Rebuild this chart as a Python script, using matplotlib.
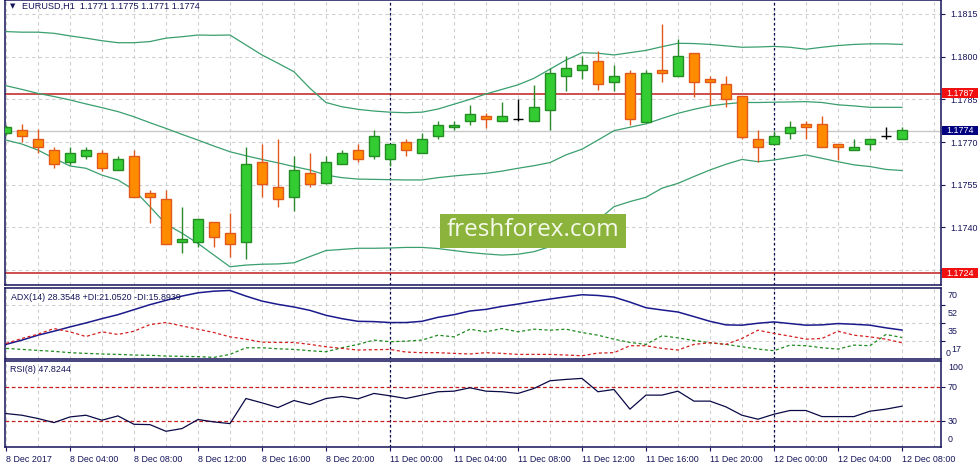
import matplotlib
matplotlib.use("Agg")
import matplotlib.pyplot as plt
from matplotlib.patches import Rectangle
import numpy as np

# ---------------- data ----------------
opens = [1.17731, 1.17743, 1.17710, 1.17671, 1.17629, 1.17650, 1.17661, 1.17601, 1.17650, 1.17520,
         1.17499, 1.17348, 1.17348, 1.17418, 1.17380, 1.17348, 1.17630, 1.17541, 1.17508, 1.17590,
         1.17557, 1.17622, 1.17671, 1.17650, 1.17639, 1.17702, 1.17661, 1.17720, 1.17752, 1.17773,
         1.17791, 1.17773, 1.17780, 1.17773, 1.17812, 1.17931, 1.17952, 1.17984, 1.17912, 1.17942,
         1.17772, 1.17952, 1.17931, 1.18012, 1.17922, 1.17903, 1.17861, 1.17710, 1.17692, 1.17731,
         1.17762, 1.17762, 1.17692, 1.17671, 1.17692, 1.17721, 1.17710]
highs = [1.17760, 1.17764, 1.17745, 1.17684, 1.17683, 1.17683, 1.17672, 1.17651, 1.17672, 1.17532,
         1.17532, 1.17471, 1.17429, 1.17418, 1.17450, 1.17683, 1.17693, 1.17710, 1.17651, 1.17661,
         1.17651, 1.17672, 1.17693, 1.17743, 1.17692, 1.17710, 1.17731, 1.17773, 1.17773, 1.17831,
         1.17801, 1.17842, 1.17851, 1.17902, 1.17961, 1.18001, 1.18001, 1.18021, 1.17972, 1.17952,
         1.17953, 1.18115, 1.18061, 1.18012, 1.17931, 1.17931, 1.17861, 1.17743, 1.17740, 1.17773,
         1.17773, 1.17792, 1.17692, 1.17710, 1.17710, 1.17752, 1.17752]
lows = [1.17725, 1.17702, 1.17661, 1.17610, 1.17621, 1.17639, 1.17600, 1.17601, 1.17508, 1.17417,
        1.17341, 1.17309, 1.17330, 1.17330, 1.17298, 1.17288, 1.17508, 1.17471, 1.17459, 1.17541,
        1.17552, 1.17622, 1.17629, 1.17639, 1.17616, 1.17650, 1.17661, 1.17710, 1.17743, 1.17761,
        1.17751, 1.17773, 1.17773, 1.17773, 1.17743, 1.17881, 1.17922, 1.17883, 1.17881, 1.17761,
        1.17772, 1.17912, 1.17931, 1.17860, 1.17831, 1.17822, 1.17710, 1.17629, 1.17692, 1.17710,
        1.17710, 1.17682, 1.17637, 1.17671, 1.17671, 1.17710, 1.17710]
closes = [1.17752, 1.17721, 1.17682, 1.17622, 1.17661, 1.17671, 1.17610, 1.17639, 1.17508, 1.17508,
          1.17341, 1.17358, 1.17429, 1.17368, 1.17341, 1.17622, 1.17552, 1.17499, 1.17601, 1.17552,
          1.17629, 1.17661, 1.17639, 1.17720, 1.17692, 1.17671, 1.17710, 1.17761, 1.17761, 1.17800,
          1.17780, 1.17791, 1.17780, 1.17822, 1.17942, 1.17961, 1.17972, 1.17903, 1.17931, 1.17781,
          1.17942, 1.17942, 1.18001, 1.17912, 1.17912, 1.17851, 1.17719, 1.17682, 1.17721, 1.17752,
          1.17752, 1.17682, 1.17682, 1.17682, 1.17710, 1.17721, 1.17743]

bb_upper = [1.18088, 1.18086, 1.18086, 1.18082, 1.18073, 1.18065, 1.18056, 1.18049, 1.18049, 1.18053,
            1.18065, 1.18070, 1.18076, 1.18075, 1.18076, 1.18041, 1.18006, 1.17977, 1.17947, 1.17889,
            1.17839, 1.17824, 1.17815, 1.17809, 1.17805, 1.17803, 1.17805, 1.17816, 1.17833, 1.17850,
            1.17869, 1.17885, 1.17901, 1.17924, 1.17956, 1.17988, 1.18014, 1.18012, 1.18006, 1.18014,
            1.18022, 1.18035, 1.18047, 1.18046, 1.18043, 1.18038, 1.18033, 1.18034, 1.18036, 1.18033,
            1.18026, 1.18033, 1.18039, 1.18043, 1.18045, 1.18045, 1.18043]
bb_middle = [1.17898, 1.17885, 1.17871, 1.17860, 1.17848, 1.17834, 1.17821, 1.17807, 1.17789, 1.17768,
             1.17748, 1.17727, 1.17707, 1.17686, 1.17666, 1.17652, 1.17639, 1.17627, 1.17614, 1.17602,
             1.17584, 1.17575, 1.17570, 1.17569, 1.17568, 1.17567, 1.17567, 1.17575, 1.17581, 1.17586,
             1.17590, 1.17598, 1.17608, 1.17617, 1.17628, 1.17655, 1.17675, 1.17707, 1.17740, 1.17752,
             1.17764, 1.17783, 1.17801, 1.17815, 1.17827, 1.17834, 1.17839, 1.17839, 1.17840, 1.17841,
             1.17842, 1.17839, 1.17831, 1.17827, 1.17822, 1.17822, 1.17822]
bb_lower = [1.17707, 1.17693, 1.17672, 1.17643, 1.17616, 1.17608, 1.17584, 1.17567, 1.17532, 1.17473,
            1.17412, 1.17380, 1.17344, 1.17303, 1.17262, 1.17268, 1.17271, 1.17272, 1.17276, 1.17298,
            1.17319, 1.17323, 1.17327, 1.17327, 1.17328, 1.17330, 1.17330, 1.17326, 1.17319, 1.17312,
            1.17307, 1.17303, 1.17306, 1.17315, 1.17333, 1.17356, 1.17380, 1.17426, 1.17473, 1.17491,
            1.17506, 1.17538, 1.17555, 1.17579, 1.17602, 1.17622, 1.17639, 1.17631, 1.17637, 1.17646,
            1.17655, 1.17643, 1.17631, 1.17620, 1.17614, 1.17604, 1.17600]

adx = [14.3, 18.5, 23.3, 27.2, 31.4, 35.3, 39.5, 43.4, 48.3, 53.2,
       57.4, 61.6, 64.8, 66.4, 67.1, 61.6, 56.7, 53.5, 50.9, 47.6,
       42.8, 39.5, 36.9, 36.6, 35.7, 35.7, 36.9, 40.8, 43.4, 47.0,
       48.6, 51.5, 53.8, 56.4, 58.7, 60.9, 62.9, 62.2, 60.6, 55.7,
       50.2, 48.0, 46.0, 41.5, 36.9, 33.4, 33.1, 35.0, 36.3, 34.7,
       33.1, 33.4, 34.7, 34.0, 33.1, 30.5, 28.35]
plus_di = [10.4, 9.4, 8.4, 7.5, 6.2, 5.5, 4.9, 4.5, 3.9, 3.6,
           2.9, 2.6, 2.3, 1.6, 4.5, 11.0, 11.0, 10.0, 9.4, 8.1,
           7.1, 11.0, 14.3, 18.5, 16.9, 17.5, 18.5, 23.3, 21.7, 29.2,
           26.6, 29.8, 26.6, 29.2, 28.2, 29.2, 25.9, 23.3, 19.4, 16.2,
           14.3, 22.7, 20.7, 18.1, 15.9, 14.3, 12.0, 9.7, 8.1, 13.6,
           13.0, 11.0, 9.7, 13.6, 13.0, 24.0, 21.05]
minus_di = [15.2, 20.1, 24.3, 29.8, 26.6, 22.0, 26.6, 24.0, 27.2, 33.7,
            35.7, 32.4, 29.2, 25.9, 21.7, 19.4, 16.5, 16.2, 16.2, 14.3,
            12.0, 10.4, 8.8, 9.1, 9.4, 6.8, 6.2, 6.2, 5.5, 4.9,
            6.2, 5.5, 4.5, 4.5, 4.5, 3.9, 3.2, 5.8, 6.2, 13.0,
            13.0, 10.4, 8.8, 14.3, 15.9, 14.3, 20.1, 28.2, 25.0, 22.4,
            19.4, 20.1, 27.2, 23.3, 21.7, 19.4, 15.89]
rsi = [39.1, 37.1, 33.2, 28.4, 35.1, 37.1, 31.2, 36.3, 26.4, 26.0,
       18.1, 21.3, 32.0, 29.2, 27.2, 56.9, 51.8, 46.2, 54.5, 49.8,
       56.9, 59.3, 56.5, 62.9, 60.1, 56.9, 60.9, 64.9, 65.6, 69.6,
       65.6, 64.9, 62.9, 68.8, 77.9, 79.5, 80.7, 64.9, 67.6, 44.3,
       60.9, 60.9, 65.6, 53.8, 53.8, 47.0, 37.1, 32.4, 38.3, 42.7,
       42.7, 35.5, 35.5, 35.5, 41.9, 44.3, 47.82]

time_labels = ["8 Dec 2017", "8 Dec 04:00", "8 Dec 08:00", "8 Dec 12:00", "8 Dec 16:00",
               "8 Dec 20:00", "11 Dec 00:00", "11 Dec 04:00", "11 Dec 08:00", "11 Dec 12:00",
               "11 Dec 16:00", "11 Dec 20:00", "12 Dec 00:00", "12 Dec 04:00", "12 Dec 08:00"]
price_ticks = [1.1815, 1.1800, 1.1785, 1.1770, 1.1755, 1.1740, 1.1725]
price_tick_labels = ["1.1815", "1.1800", "1.1785", "1.1770", "1.1755", "1.1740", ""]
resistance = 1.1787
support = 1.1724
bid = 1.1774
day_breaks = [24, 48]
header = "EURUSD,H1  1.1771 1.1775 1.1771 1.1774"
adx_header = "ADX(14) 28.3548 +DI:21.0520 -DI:15.8939"
rsi_header = "RSI(8) 47.8244"

# ---------------- style ----------------
FONT = "Liberation Sans"
FS = 6.4
NAVY = "#14145a"
GRID = "#cfcfcf"
W, H = 979, 471

plt.rcParams["font.family"] = [FONT, "DejaVu Sans"]

fig = plt.figure(figsize=(W / 100, H / 100), dpi=100, facecolor="white")


def rect(x0, y0, x1, y1):
    return [x0 / W, 1 - y1 / H, (x1 - x0) / W, (y1 - y0) / H]


ax = fig.add_axes(rect(5, 0, 941, 285))
ax_adx = fig.add_axes(rect(5, 287.5, 941, 359), sharex=ax)
ax_rsi = fig.add_axes(rect(5, 361, 941, 447), sharex=ax)

n = len(opens)
x = np.arange(n)
o = np.array(opens); h = np.array(highs); l = np.array(lows); c = np.array(closes)

for a in (ax, ax_adx, ax_rsi):
    a.set_facecolor("white")
    for s in a.spines.values():
        s.set_color(NAVY)
        s.set_linewidth(1.1)
    a.set_xlim(-0.06, 58.44)
    a.set_xticks(np.arange(0, 57, 4))
    a.set_xticks(np.arange(2, 59, 4), minor=True)
    a.grid(True, which="both", axis="x", color=GRID, linestyle=(0, (3, 3)), linewidth=0.8)
    a.tick_params(axis="x", which="minor", length=0)
    a.set_axisbelow(True)
    for d in day_breaks:
        a.axvline(d, color="#0a0a50", linestyle=(0, (2, 2)), linewidth=0.9, zorder=1)

# ---------------- main panel ----------------
ax.set_ylim(1.17198, 1.18199)
ax.yaxis.tick_right()
ax.set_yticks(price_ticks)
ax.set_yticklabels(price_tick_labels)
ax.tick_params(axis="y", colors=NAVY, labelsize=FS, length=3, pad=4, direction="out")
ax.tick_params(axis="y", labelcolor=NAVY)
ax.grid(True, axis="y", color=GRID, linestyle=(0, (3, 3)), linewidth=0.8)
ax.tick_params(axis="x", labelbottom=False, length=0)

ax.axhline(bid, color="#c8c8c8", linewidth=1.0, zorder=1)
ax.axhline(resistance, color="#c01e1e", linewidth=1.1, zorder=2)
ax.axhline(support, color="#c01e1e", linewidth=1.1, zorder=2)

band_col = "#3a9f6e"
ax.plot(x, bb_upper, color=band_col, linewidth=0.9, zorder=3)
ax.plot(x, bb_middle, color=band_col, linewidth=0.9, zorder=3)
ax.plot(x, bb_lower, color=band_col, linewidth=0.9, zorder=3)

up = c > o
dn = c < o
dj = c == o
bw = 0.66
ax.vlines(x[up], l[up], h[up], color="#2a8a2a", linewidth=1.0, zorder=4)
ax.vlines(x[dn], l[dn], h[dn], color="#e2581c", linewidth=1.0, zorder=4)
ax.vlines(x[dj], l[dj], h[dj], color="black", linewidth=1.0, zorder=4)
ax.bar(x[up], c[up] - o[up], bottom=o[up], width=bw, color="#33cc33",
       edgecolor="#238c23", linewidth=1.0, zorder=5)
ax.bar(x[dn], o[dn] - c[dn], bottom=c[dn], width=bw, color="#ff8c00",
       edgecolor="#e2581c", linewidth=1.0, zorder=5)
ax.hlines(c[dj], x[dj] - bw / 2, x[dj] + bw / 2, color="black", linewidth=1.0, zorder=5)

# ---------------- ADX panel ----------------
ax_adx.set_ylim(0, 70)
ax_adx.plot(x, adx, color="#1a1a8c", linewidth=1.1, zorder=3)
ax_adx.plot(x, plus_di, color="#1e8a1e", linewidth=0.9, linestyle=(0, (2.5, 2)), zorder=3)
ax_adx.plot(x, minus_di, color="#d42020", linewidth=0.9, linestyle=(0, (2.5, 2)), zorder=3)
ax_adx.yaxis.tick_right()
ax_adx.set_yticks([17.5, 35, 52.5])
ax_adx.set_yticklabels([])
ax_adx.tick_params(axis="y", colors=NAVY, length=3)
ax_adx.grid(True, axis="y", color=GRID, linestyle=(0, (3, 3)), linewidth=0.8)
ax_adx.tick_params(axis="x", labelbottom=False, length=0)

# ---------------- RSI panel ----------------
ax_rsi.set_ylim(-0.5, 101.3)
ax_rsi.axhline(70, color="#c81e1e", linewidth=0.9, linestyle=(0, (3, 2)), zorder=2)
ax_rsi.axhline(30, color="#c81e1e", linewidth=0.9, linestyle=(0, (3, 2)), zorder=2)
ax_rsi.plot(x, rsi, color="#0a0a46", linewidth=0.9, zorder=3)
ax_rsi.yaxis.tick_right()
ax_rsi.set_yticks([30, 70])
ax_rsi.set_yticklabels([])
ax_rsi.tick_params(axis="y", colors=NAVY, length=3)
ax_rsi.set_xticklabels(time_labels)
ax_rsi.tick_params(axis="x", which="major", colors=NAVY, labelsize=FS, length=3, pad=3)
for lab in ax_rsi.get_xticklabels():
    lab.set_ha("left")
    lab.set_color(NAVY)


def ftext(px, py, s, **kw):
    fig.text(px / W, 1 - py / H, s, **kw)


# headers
ftext(10, 6, "\u25BC", fontsize=5, color=NAVY, va="center", ha="left", family="DejaVu Sans")
ftext(22, 6, header, fontsize=FS + 0.2, color=NAVY, va="center", ha="left")
ftext(11, 297, adx_header, fontsize=FS, color=NAVY, va="center", ha="left")
ftext(10, 370, rsi_header, fontsize=FS, color=NAVY, va="center", ha="left")

# sub-window scale labels
for lbl, py, px in [("70", 295, 948), ("52", 314, 948), ("35", 332, 948), ("17", 349, 951.5), ("0", 353, 945.5)]:
    ftext(px, py, lbl, fontsize=FS, color=NAVY, va="center", ha="left")
for lbl, py in [("100", 368), ("70", 387), ("30", 421), ("0", 439)]:
    ftext(948, py, lbl, fontsize=FS, color=NAVY, va="center", ha="left")

# price boxes on right scale
for val, face, pytop, pybot in [(resistance, "#f01010", 88.3, 97.8), (support, "#f01010", 268.3, 277.8),
                                (bid, "#000080", 126.3, 135.3)]:
    fig.patches.append(Rectangle((942 / W, 1 - pybot / H), 37 / W, (pybot - pytop) / H,
                                 transform=fig.transFigure, facecolor=face, edgecolor="none", zorder=10))
    ftext(960.5, (pytop + pybot) / 2, f"{val:.4f}", fontsize=FS, color="white",
          va="center", ha="center", zorder=11)

# watermark
fig.patches.append(Rectangle((440 / W, 1 - 247.7 / H), 186 / W, 33.4 / H, transform=fig.transFigure,
                             facecolor="#8cb43c", edgecolor="none", zorder=10))
ftext(533, 229.5, "freshforex.com", fontsize=17.5, color="#f5f9ea", va="center", ha="center",
      family=["Open Sans", "DejaVu Sans"], zorder=11)

fig.savefig("out.png", dpi=100, facecolor="white")
